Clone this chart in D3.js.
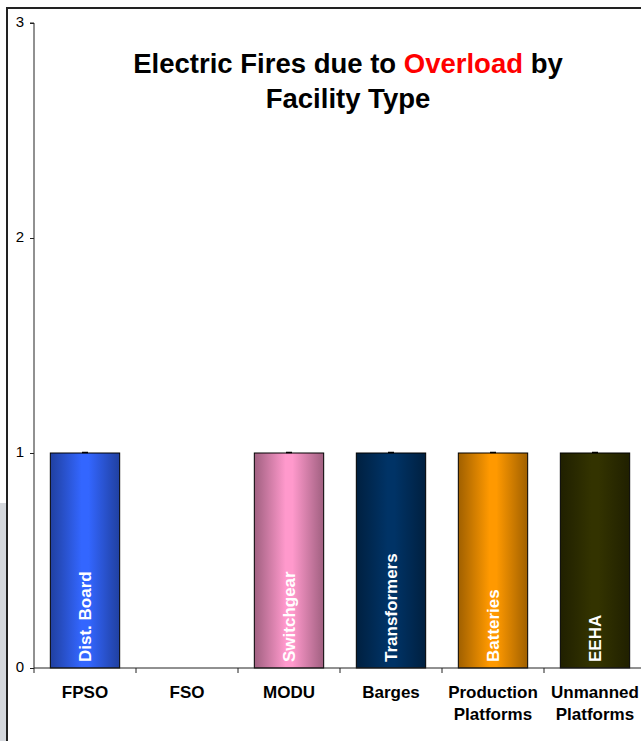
<!DOCTYPE html>
<html>
<head>
<meta charset="utf-8">
<script src="https://cdn.jsdelivr.net/npm/d3@7"></script>
<style>
html,body{margin:0;padding:0;background:#fff;overflow:hidden;}
svg{display:block;}
</style>
</head>
<body>
<script>
// ---- data ----
const categories = ["FPSO", "FSO", "MODU", "Barges", "Production Platforms", "Unmanned Platforms"];
const values = [1, 0, 1, 1, 1, 1];
const barLabels = ["Dist. Board", "", "Switchgear", "Transformers", "Batteries", "EEHA"];
const barColors = ["#3366ff", "#999999", "#ff99cc", "#003366", "#ff9900", "#333300"];
const yTicks = [0, 1, 2, 3];
const titleParts = [["Electric Fires due to ", "#000"], ["Overload", "#ff0000"], [" by", "#000"]];
const titleLine2 = "Facility Type";

const W = 641, H = 741;
const svg = d3.select("body").append("svg").attr("width", W).attr("height", H);
const font = "'Liberation Sans', Arial, sans-serif";

// background pieces / frame
svg.append("rect").attr("x", 0).attr("y", 503).attr("width", 7).attr("height", H - 503).attr("fill", "#d5d8dd");
svg.append("line").attr("x1", 7).attr("x2", 7).attr("y1", 8).attr("y2", H).attr("stroke", "#222").attr("stroke-width", 2);
svg.append("line").attr("x1", 6).attr("x2", W).attr("y1", 8).attr("y2", 8).attr("stroke", "#222").attr("stroke-width", 2);

const x0 = 34, x1 = 646, yBase = 668, yTop = 23;
const xBand = d3.scaleBand().domain(categories).range([x0, x1]).paddingInner(0.32).paddingOuter(0.16);
const xCell = d3.scaleBand().domain(categories).range([x0, x1]).padding(0);
const y = d3.scaleLinear().domain([0, 3]).range([yBase, yTop]);

// gradients
const defs = svg.append("defs");
barColors.forEach((c, i) => {
  const g = defs.append("linearGradient").attr("id", "g" + i).attr("x1", "0%").attr("x2", "100%").attr("y1", "0%").attr("y2", "0%");
  const dark = d3.color(c).darker(1.3);
  g.append("stop").attr("offset", "0%").attr("stop-color", dark);
  g.append("stop").attr("offset", "45%").attr("stop-color", c);
  g.append("stop").attr("offset", "55%").attr("stop-color", c);
  g.append("stop").attr("offset", "100%").attr("stop-color", dark);
});

// y axis
const yAxis = svg.append("g").attr("transform", `translate(${x0},0)`)
  .call(d3.axisLeft(y).tickValues(yTicks).tickFormat(d3.format("d")).tickSize(4).tickPadding(6));
yAxis.select(".domain").attr("stroke", "#222").attr("d", `M-4,${yTop}H0V${yBase}`);
yAxis.selectAll(".tick line").attr("stroke", "#222");
yAxis.selectAll("text").attr("font-family", font).attr("font-size", 15).attr("fill", "#000").attr("dy", "0.2em");

// bars
const bars = svg.append("g");
categories.forEach((c, i) => {
  if (values[i] <= 0) return;
  bars.append("rect")
    .attr("x", xBand(c)).attr("y", y(values[i]))
    .attr("width", xBand.bandwidth()).attr("height", y(0) - y(values[i]))
    .attr("fill", `url(#g${i})`).attr("stroke", "#000").attr("stroke-width", 1);
  const cx = xBand(c) + xBand.bandwidth() / 2;
  bars.append("line").attr("x1", cx - 3).attr("x2", cx + 3).attr("y1", y(values[i]) - 0.5).attr("y2", y(values[i]) - 0.5)
    .attr("stroke", "#000").attr("stroke-width", 1.5);
  bars.append("text")
    .attr("transform", `translate(${cx},${yBase - 6}) rotate(-90)`)
    .attr("text-anchor", "start").attr("dominant-baseline", "central")
    .attr("font-family", font).attr("font-weight", "bold").attr("font-size", 17)
    .attr("fill", "#fff").text(barLabels[i]);
});

// x axis
const xg = svg.append("g");
xg.append("line").attr("x1", x0).attr("x2", W).attr("y1", yBase).attr("y2", yBase).attr("stroke", "#222");
categories.forEach(c => {
  const xt = xCell(c);
  xg.append("line").attr("x1", xt).attr("x2", xt).attr("y1", yBase).attr("y2", yBase + 5).attr("stroke", "#222");
});
categories.forEach(c => {
  const cx = xCell(c) + xCell.bandwidth() / 2;
  const words = c.split(" ");
  const t = xg.append("text").attr("text-anchor", "middle").attr("font-family", font)
    .attr("font-weight", "bold").attr("font-size", 17).attr("fill", "#000");
  words.forEach((w, k) => {
    t.append("tspan").attr("x", cx).attr("y", 698 + k * 22).text(w);
  });
});

// title
const tcx = 348;
const t1 = svg.append("text").attr("x", tcx).attr("y", 73).attr("text-anchor", "middle")
  .attr("font-family", font).attr("font-weight", "bold").attr("font-size", 27.5);
titleParts.forEach(p => t1.append("tspan").attr("fill", p[1]).text(p[0]));
svg.append("text").attr("x", tcx).attr("y", 108).attr("text-anchor", "middle")
  .attr("font-family", font).attr("font-weight", "bold").attr("font-size", 27.5).attr("fill", "#000").text(titleLine2);
</script>
</body>
</html>
